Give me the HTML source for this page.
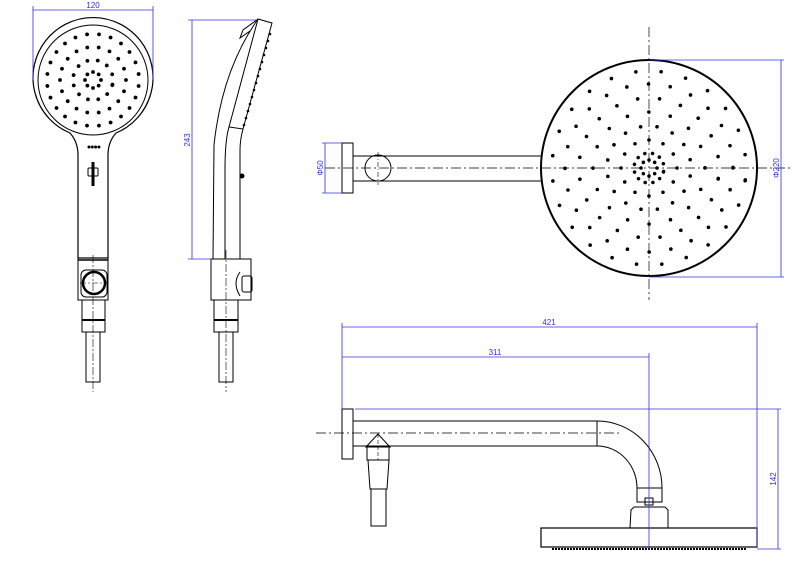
<!DOCTYPE html>
<html><head><meta charset="utf-8"><style>html,body{margin:0;padding:0;background:#fff}svg{display:block}text{font-family:"Liberation Sans",sans-serif;font-size:8px;fill:#3030e0}</style></head>
<body>
<svg width="800" height="567" viewBox="0 0 800 567" xmlns="http://www.w3.org/2000/svg">
<g fill="none" stroke="#000" stroke-width="1">
<path d="M70,133 A60,60 0 1 1 116,133 Q108,142 108,155 L108,258 L78,258 L78,155 Q78,142 70,133 Z" stroke-width="1.2"/>
<circle cx="93" cy="80" r="55"/>
<rect x="78" y="258" width="30" height="42"/>
<line x1="78" y1="260" x2="108" y2="260" stroke-width="1.5"/>
<rect x="81" y="270" width="26" height="27" rx="5"/>
<circle cx="94" cy="283" r="11" stroke-width="2.5"/>
<rect x="82" y="300" width="23" height="32"/>
<line x1="82" y1="320" x2="105" y2="320" stroke-width="2"/>
<rect x="86" y="332" width="14" height="50"/>
<line x1="93" y1="255" x2="93" y2="392" stroke-dasharray="8,2,2,2" stroke-width="0.6"/>
<line x1="80" y1="283" x2="108" y2="283" stroke-dasharray="6,2,2,2" stroke-width="0.6"/>
<rect x="88" y="168" width="10" height="8" rx="1"/>
<line x1="93" y1="162" x2="93" y2="186" stroke-width="3"/>
<path d="M258,19 L272,23 L243,129 L229,127 Z"/>
<path d="M258,19 L243,30 L240,38 L250,31"/>
<path d="M258,19 Q222,70 214,145 L213,259"/>
<path d="M229,127 Q225,140 225,170 L225,259"/>
<path d="M243,129 Q240,140 240,150 L240,259"/>
<rect x="211" y="259" width="40" height="41"/>
<path d="M240,272 Q232,283 240,296"/>
<rect x="242" y="276" width="10" height="16" rx="2"/>
<rect x="214" y="300" width="24" height="32"/>
<line x1="214" y1="320" x2="238" y2="320" stroke-width="2"/>
<rect x="219" y="332" width="14" height="50"/>
<line x1="226" y1="250" x2="226" y2="392" stroke-dasharray="8,2,2,2" stroke-width="0.6"/>
<rect x="342" y="143" width="11" height="50"/>
<line x1="353" y1="156" x2="541" y2="156"/>
<line x1="353" y1="181" x2="541" y2="181"/>
<circle cx="378" cy="168" r="13"/>
<line x1="378" y1="152" x2="378" y2="185" stroke-dasharray="5,2,1,2" stroke-width="0.6"/>
<circle cx="649" cy="168" r="108" stroke-width="2"/>
<line x1="325" y1="168" x2="792" y2="168" stroke-dasharray="10,3,2,3" stroke-width="0.7"/>
<line x1="649" y1="27" x2="649" y2="300" stroke-dasharray="10,3,2,3" stroke-width="0.7"/>
<rect x="342" y="409" width="11" height="50"/>
<path d="M353,421 L597,421 A65,67 0 0 1 662,488 L637,488 A40,42 0 0 0 597,446 L353,446"/>
<line x1="597" y1="421" x2="597" y2="446"/>
<rect x="637" y="488" width="25" height="14"/>
<rect x="645" y="498" width="8" height="7"/>
<path d="M630,528 L631,510 L634,507 L665,507 L668,510 L668,528"/>
<rect x="541" y="528" width="216" height="19" stroke-width="1.2"/>
<line x1="552" y1="549" x2="746" y2="549" stroke-width="2" stroke-dasharray="2,1"/>
<path d="M366,447 L378,434 L390,447 Z"/>
<rect x="367" y="447" width="22" height="13"/>
<path d="M368,460 L389,460 L387,489 L370,489 Z"/>
<rect x="371" y="489" width="15" height="37"/>
<line x1="316" y1="433" x2="622" y2="433" stroke-dasharray="10,3,2,3" stroke-width="0.7"/>
<line x1="378" y1="434" x2="378" y2="460" stroke-dasharray="4,2" stroke-width="0.6"/>
</g>
<g fill="none" stroke="#000" stroke-width="3.6" stroke-linecap="round" stroke-dasharray="0 1">
<circle cx="649" cy="168" r="8" pathLength="8"/>
<circle cx="649" cy="168" r="15" pathLength="12" transform="rotate(15 649 168)"/>
<circle cx="649" cy="168" r="28" pathLength="12"/>
<circle cx="649" cy="168" r="42" pathLength="16" transform="rotate(11 649 168)"/>
<circle cx="649" cy="168" r="56" pathLength="16"/>
<circle cx="649" cy="168" r="70" pathLength="20" transform="rotate(9 649 168)"/>
<circle cx="649" cy="168" r="84" pathLength="24"/>
<circle cx="649" cy="168" r="97" pathLength="24" transform="rotate(7.5 649 168)"/>
</g>
<g fill="none" stroke="#000" stroke-width="3.8" stroke-linecap="round" stroke-dasharray="0 1">
<circle cx="93" cy="80" r="8" pathLength="8"/>
<circle cx="93" cy="80" r="20" pathLength="12" transform="rotate(15 93 80)"/>
<circle cx="93" cy="80" r="33" pathLength="18"/>
<circle cx="93" cy="80" r="46" pathLength="24" transform="rotate(7.5 93 80)"/>
</g>
<g fill="#000">
<circle cx="89" cy="147" r="1.5"/><circle cx="92.3" cy="147" r="1.5"/><circle cx="95.6" cy="147" r="1.5"/><circle cx="98.9" cy="147" r="1.5"/>
<circle cx="242" cy="176" r="2.5"/>
<circle cx="270" cy="34" r="1.3"/><circle cx="268" cy="41" r="1.3"/><circle cx="266" cy="48" r="1.3"/><circle cx="264" cy="55" r="1.3"/><circle cx="262" cy="62" r="1.3"/><circle cx="260" cy="69" r="1.3"/><circle cx="258" cy="76" r="1.3"/><circle cx="256" cy="83" r="1.3"/><circle cx="254" cy="90" r="1.3"/><circle cx="252" cy="97" r="1.3"/><circle cx="250" cy="104" r="1.3"/><circle cx="248" cy="111" r="1.3"/><circle cx="246" cy="118" r="1.3"/><circle cx="244" cy="125" r="1.3"/>
</g>
<g stroke="#3030e0" stroke-width="0.8" fill="none">
<line x1="33" y1="10" x2="153" y2="10"/><line x1="33" y1="6" x2="33" y2="80"/><line x1="153" y1="6" x2="153" y2="80"/>
<line x1="192" y1="20" x2="192" y2="259"/><line x1="188" y1="20" x2="258" y2="20"/><line x1="188" y1="259" x2="212" y2="259"/>
<line x1="325" y1="143" x2="325" y2="193"/><line x1="322" y1="143" x2="342" y2="143"/><line x1="322" y1="193" x2="342" y2="193"/>
<line x1="781" y1="60" x2="781" y2="277"/><line x1="649" y1="60" x2="784" y2="60"/><line x1="649" y1="277" x2="784" y2="277"/>
<line x1="342" y1="327" x2="757" y2="327"/><line x1="342" y1="323" x2="342" y2="409"/><line x1="757" y1="323" x2="757" y2="548"/>
<line x1="342" y1="357" x2="649" y2="357"/><line x1="649" y1="353" x2="649" y2="550"/>
<line x1="355" y1="409" x2="781" y2="409"/><line x1="778" y1="409" x2="778" y2="549"/><line x1="757" y1="549" x2="781" y2="549"/>
</g>
<text x="93" y="8" text-anchor="middle">120</text>
<text transform="translate(190,140) rotate(-90)" text-anchor="middle">243</text>
<text transform="translate(323,168) rotate(-90)" text-anchor="middle">Φ50</text>
<text transform="translate(779,168) rotate(-90)" text-anchor="middle">Φ220</text>
<text x="549" y="325" text-anchor="middle">421</text>
<text x="495" y="355" text-anchor="middle">311</text>
<text transform="translate(776,479) rotate(-90)" text-anchor="middle">142</text>
</svg>
</body></html>
